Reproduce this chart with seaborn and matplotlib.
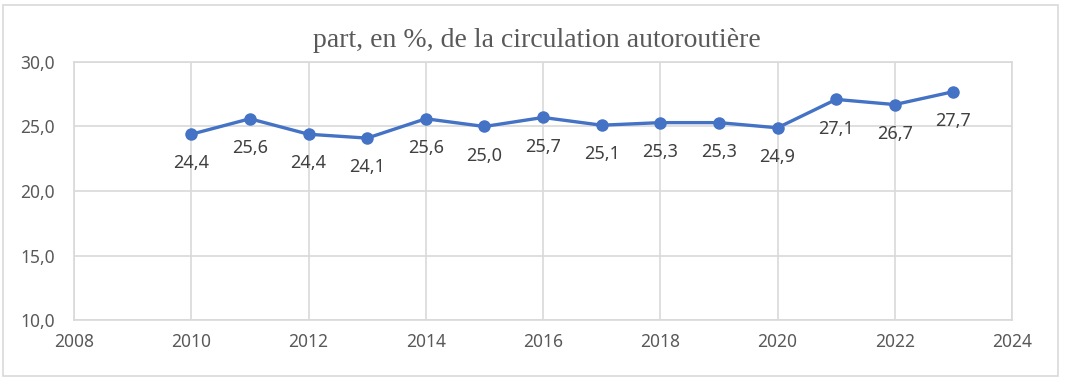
import matplotlib
matplotlib.use('Agg')
import matplotlib.pyplot as plt
import matplotlib.ticker as mticker
from matplotlib.patches import Rectangle
import pandas as pd
import seaborn as sns

# données
annees = [2010, 2011, 2012, 2013, 2014, 2015, 2016, 2017, 2018, 2019, 2020, 2021, 2022, 2023]
part = [24.4, 25.6, 24.4, 24.1, 25.6, 25.0, 25.7, 25.1, 25.3, 25.3, 24.9, 27.1, 26.7, 27.7]
titre = 'part, en %, de la circulation autoroutière'

df = pd.DataFrame({'annee': annees, 'part': part})

sns.set_theme(style='whitegrid')
plt.rcParams['font.family'] = ['Noto Sans', 'DejaVu Sans']

fig = plt.figure(figsize=(10.7, 3.82), dpi=100)
ax = fig.add_axes([0.0692, 0.1623, 0.8766, 0.6754])

sns.lineplot(data=df, x='annee', y='part', ax=ax, color='#4472C4',
             linewidth=2.4, marker='o', markersize=9, markeredgewidth=0)

# étiquettes de données sous les points
for x, y in zip(annees, part):
    ax.annotate(f'{y:.1f}'.replace('.', ','), (x, y), xytext=(0, -21),
                textcoords='offset points', ha='center', va='center',
                fontsize=13, color='#404040')

ax.set_xlim(2008, 2024)
ax.set_ylim(10, 30)
ax.xaxis.set_major_locator(mticker.MultipleLocator(2))
ax.yaxis.set_major_locator(mticker.MultipleLocator(5))
ax.yaxis.set_major_formatter(mticker.FuncFormatter(lambda v, p: f'{v:.1f}'.replace('.', ',')))
ax.set_xlabel('')
ax.set_ylabel('')
ax.grid(True, color='#D9D9D9', linewidth=1.2)
for s in ax.spines.values():
    s.set_color('#D9D9D9')
    s.set_linewidth(1.2)
ax.tick_params(axis='both', labelsize=12.5, colors='#595959', length=0)
ax.tick_params(axis='x', pad=9)
ax.tick_params(axis='y', pad=14)

fig.text(0.502, 0.895, titre, ha='center', va='center', fontsize=20,
         family=['Liberation Serif', 'DejaVu Serif'], color='#595959')

# cadre du graphique
fig.patches.append(Rectangle((0.003, 0.016), 0.986, 0.972, transform=fig.transFigure,
                             fill=False, edgecolor='#D9D9D9', linewidth=1.2))

fig.savefig('out.png', dpi=100, facecolor='white')
